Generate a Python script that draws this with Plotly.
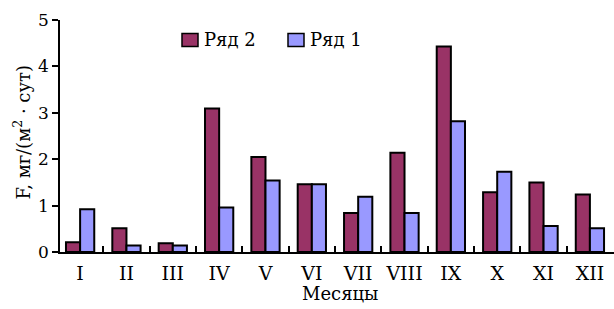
import plotly.graph_objects as go

months = ["I", "II", "III", "IV", "V", "VI", "VII", "VIII", "IX", "X", "XI", "XII"]
series2 = [0.21, 0.51, 0.19, 3.09, 2.05, 1.46, 0.84, 2.14, 4.43, 1.29, 1.50, 1.24]
series1 = [0.92, 0.14, 0.14, 0.96, 1.54, 1.46, 1.19, 0.84, 2.82, 1.73, 0.56, 0.51]
name2 = "Ряд 2"
name1 = "Ряд 1"
color2 = "#993366"
color1 = "#9999FF"
y_title = "F, мг/(м<sup>2</sup> · сут)"
x_title = "Месяцы"

FONT = "DejaVu Serif"
W, H = 614, 309
L, R, T, B = 60, 614, 20, 252


def px(x):
    return (x - L) / (R - L)


def py(y):
    return (B - y) / (B - T)


fig = go.Figure()
fig.add_trace(go.Bar(x=months, y=series2, name=name2, marker=dict(color=color2, line=dict(color="black", width=2))))
fig.add_trace(go.Bar(x=months, y=series1, name=name1, marker=dict(color=color1, line=dict(color="black", width=2))))

shapes = []
annotations = []
legend_items = [(182, 198, 202, name2, color2), (288, 304, 308, name1, color1)]
for x0, x1, xt, nm, col in legend_items:
    shapes.append(dict(type="rect", xref="paper", yref="paper", x0=px(x0), x1=px(x1), y0=py(46.5), y1=py(33.5),
                       fillcolor=col, line=dict(color="black", width=1.5)))
    annotations.append(dict(xref="paper", yref="paper", x=px(xt), y=py(40), xanchor="left", yanchor="middle",
                            text=nm, showarrow=False, font=dict(family=FONT, size=18, color="black")))

annotations.append(dict(xref="paper", yref="paper", x=px(22), y=py(132.5), xanchor="center", yanchor="middle",
                        text=y_title, textangle=-90, showarrow=False, font=dict(family=FONT, size=18, color="black")))
annotations.append(dict(xref="paper", yref="paper", x=px(339.5), y=py(293), xanchor="center", yanchor="middle",
                        text=x_title, showarrow=False, font=dict(family=FONT, size=18, color="black")))

fig.update_layout(
    width=W, height=H,
    margin=dict(l=L, r=W - R, t=T, b=H - B, pad=0),
    paper_bgcolor="white", plot_bgcolor="white",
    barmode="group", bargap=0.39, bargroupgap=0,
    showlegend=False,
    shapes=shapes, annotations=annotations,
    font=dict(family=FONT, color="black"),
    xaxis=dict(type="category", range=[-0.434, 11.52], showline=True, linecolor="black", linewidth=1.5,
               ticks="inside", tickson="boundaries", ticklen=6, tickcolor="black", tickwidth=1.5,
               tickangle=0, ticklabelstandoff=3, showgrid=False, zeroline=False,
               tickfont=dict(family=FONT, size=19, color="black")),
    yaxis=dict(range=[0, 5], showline=True, linecolor="black", linewidth=1.5,
               ticks="outside", ticklen=6, tickcolor="black", tickwidth=1.5, dtick=1,
               showgrid=False, zeroline=False, tickfont=dict(family=FONT, size=17, color="black")),
)

fig.write_html("out.html", config={"displayModeBar": False},
               post_script="document.body.style.margin='0';")
